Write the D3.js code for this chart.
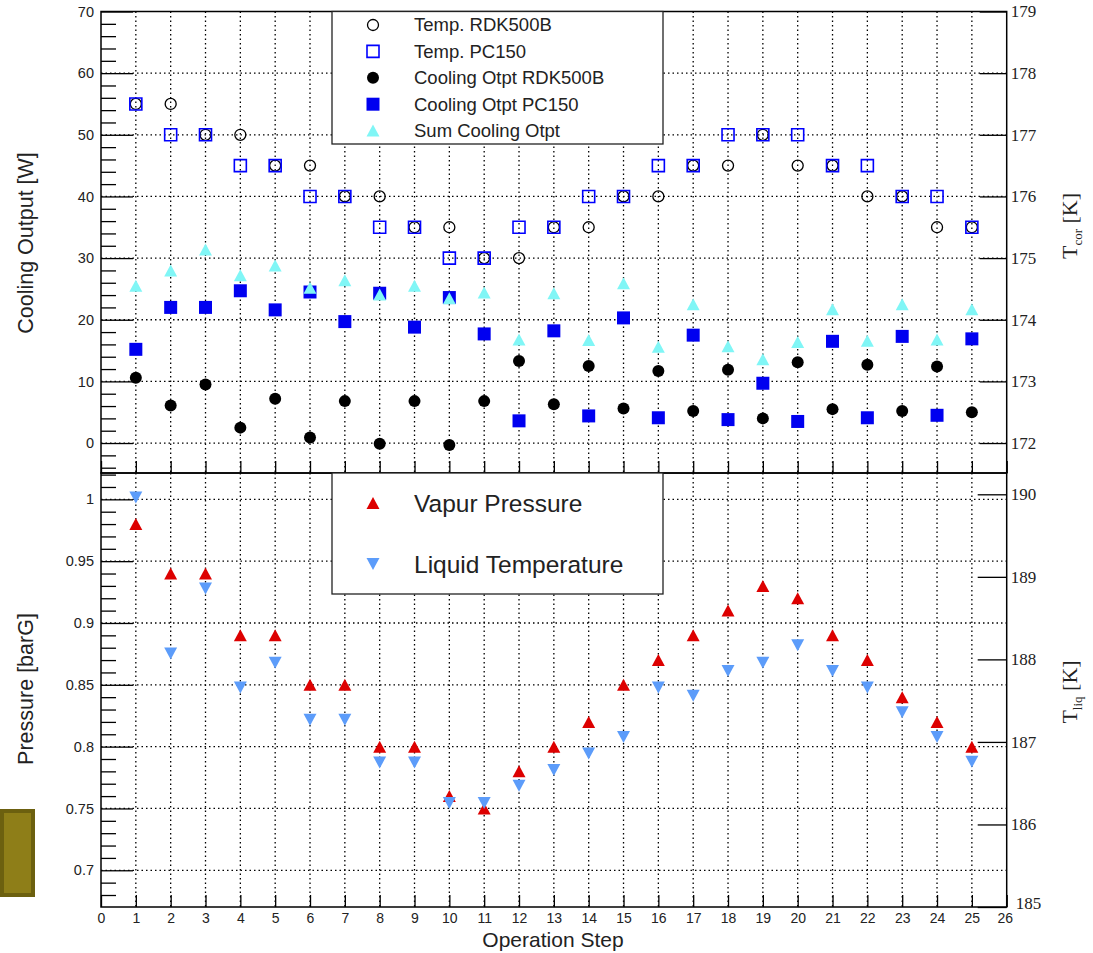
<!DOCTYPE html>
<html>
<head>
<meta charset="utf-8">
<script src="https://cdn.jsdelivr.net/npm/d3@7"></script>
<style>
  html, body { margin: 0; padding: 0; background: #fff; }
  svg { display: block; font-family: "Liberation Sans", Arial, sans-serif; }
  .grid line { stroke: #000; stroke-width: 1.3; stroke-dasharray: 1.5,3; }
  .tick line { stroke: #000; stroke-width: 1.3; }
</style>
</head>
<body>
<svg id="viz" width="1093" height="953"></svg>
<script>
// ---- data ----
const steps = d3.range(1, 26);

// corridor temperatures [K] (right axis, upper panel)
const tempRDK500B = [177.5,177.5,177,177,176.5,176.5,176,176,175.5,175.5,175,175,175.5,175.5,176,176,176.5,176.5,177,176.5,176.5,176,176,175.5,175.5];
const tempPC150   = [177.5,177,177,176.5,176.5,176,176,175.5,175.5,175,175,175.5,175.5,176,176,176.5,176.5,177,177,177,176.5,176.5,176,176,175.5];

// cooling output [W] (left axis, upper panel)
const coolRDK500B = [10.6,6.1,9.5,2.5,7.2,0.9,6.8,-0.1,6.8,-0.3,6.8,13.3,6.3,12.5,5.6,11.7,5.2,11.9,4.0,13.1,5.5,12.7,5.2,12.4,5.0];
const coolPC150   = [15.2,22.0,22.0,24.7,21.6,24.5,19.7,24.3,18.8,23.6,17.7,3.6,18.2,4.4,20.3,4.1,17.5,3.8,9.7,3.5,16.5,4.1,17.3,4.5,16.9];
const coolSum     = [25.5,28.0,31.4,27.2,28.8,25.2,26.4,24.1,25.5,23.5,24.4,16.8,24.3,16.7,25.9,15.6,22.5,15.7,13.6,16.4,21.7,16.6,22.5,16.8,21.7];

// lower panel
const vaporPressure = [0.98,0.94,0.94,0.89,0.89,0.85,0.85,0.80,0.80,0.76,0.75,0.78,0.80,0.82,0.85,0.87,0.89,0.91,0.93,0.92,0.89,0.87,0.84,0.82,0.80];
const liquidTemp    = [189.96,188.07,188.86,187.66,187.96,187.27,187.27,186.75,186.75,186.26,186.26,186.47,186.66,186.86,187.06,187.66,187.56,187.86,187.96,188.17,187.86,187.66,187.36,187.06,186.76];

// ticks
const stepTicks  = d3.range(0, 27);
const wTicks     = [0, 10, 20, 30, 40, 50, 60, 70];
const wMinor     = d3.range(-4, 70, 2).filter(d => d % 10 !== 0);
const tcorTicks  = [172, 173, 174, 175, 176, 177, 178, 179];
const pTicks     = [0.7, 0.75, 0.8, 0.85, 0.9, 0.95, 1];
const pMinor     = d3.range(68, 103).map(d => d / 100).filter(d => Math.round(d * 100) % 5 !== 0);
const tliqTicks  = [185, 186, 187, 188, 189, 190];

const topLegend = ["Temp. RDK500B", "Temp. PC150", "Cooling Otpt RDK500B", "Cooling Otpt PC150", "Sum Cooling Otpt"];
const botLegend = ["Vapur Pressure", "Liquid Temperature"];

// ---- layout ----
const svg = d3.select("#viz");
const X0 = 101, X1 = 1006.7;
const TOP = 11.5, MID = 473, BOT = 907;

const x     = d3.scaleLinear().domain([0, 26]).range([X0, X1]);
const yW    = d3.scaleLinear().domain([-4.86, 70]).range([MID, TOP]);
const yTcor = d3.scaleLinear().domain([172 - 0.486, 179]).range([MID, TOP]);
const yP    = d3.scaleLinear().domain([0.6703, 1.0213]).range([BOT, MID]);
const yTliq = d3.scaleLinear().domain([185, 190]).range([BOT, 494.3]);

// olive box on the left edge
svg.append("rect").attr("x", 2).attr("y", 811).attr("width", 31).attr("height", 84)
  .attr("fill", "#8e7e18").attr("stroke", "#6c600f").attr("stroke-width", 4);

// --- grid ---
const grid = svg.append("g").attr("class", "grid");
[[TOP, MID], [MID, BOT]].forEach(([a, b]) => {
  grid.selectAll(null).data(d3.range(1, 26)).join("line")
    .attr("x1", d => x(d)).attr("x2", d => x(d)).attr("y1", a).attr("y2", b);
});
grid.selectAll(null).data(wTicks.filter(d => d < 70)).join("line")
  .attr("x1", X0).attr("x2", X1).attr("y1", d => yW(d)).attr("y2", d => yW(d));
grid.selectAll(null).data(pTicks).join("line")
  .attr("x1", X0).attr("x2", X1).attr("y1", d => yP(d)).attr("y2", d => yP(d));

// --- axes ---
function styleAxis(g, size, family) {
  g.select(".domain").remove();
  g.selectAll("text").attr("fill", "#222").style("font-size", size + "px")
    .style("font-family", family || null);
}

const fmtP = d => (d === 1 ? "1" : d3.format("~g")(d));
const serif = "'Liberation Serif', 'Times New Roman', serif";

svg.append("g").attr("transform", `translate(${X0},0)`)
  .call(d3.axisLeft(yW).tickValues(wMinor).tickSize(-15).tickFormat(""))
  .call(g => g.select(".domain").remove());
svg.append("g").attr("transform", `translate(${X0},0)`)
  .call(d3.axisLeft(yW).tickValues(wTicks).tickSize(-32).tickPadding(7).tickFormat(d3.format("d")))
  .call(g => styleAxis(g, 14.5));

svg.append("g").attr("transform", `translate(${X0},0)`)
  .call(d3.axisLeft(yP).tickValues(pMinor).tickSize(-15).tickFormat(""))
  .call(g => g.select(".domain").remove());
svg.append("g").attr("transform", `translate(${X0},0)`)
  .call(d3.axisLeft(yP).tickValues(pTicks).tickSize(-32).tickPadding(7).tickFormat(fmtP))
  .call(g => styleAxis(g, 14.5));

svg.append("g").attr("transform", `translate(${X1},0)`)
  .call(d3.axisRight(yTcor).tickValues(tcorTicks).tickSize(-27).tickPadding(4).tickFormat(d3.format("d")))
  .call(g => styleAxis(g, 17, serif));
svg.append("g").attr("transform", `translate(${X1},0)`)
  .call(d3.axisRight(yTliq).tickValues(tliqTicks).tickSize(-29).tickPadding(4).tickFormat(d3.format("d")))
  .call(g => styleAxis(g, 17, serif))
  .call(g => g.selectAll(".tick text").filter(d => d === 185).attr("x", 9).attr("dy", "0.1em"));

svg.append("g").attr("transform", `translate(0,${MID})`)
  .call(d3.axisBottom(x).tickValues(stepTicks).tickSize(-12).tickFormat(""))
  .call(g => g.select(".domain").remove());
svg.append("g").attr("transform", `translate(0,${BOT})`)
  .call(d3.axisBottom(x).tickValues(stepTicks).tickSize(-12).tickPadding(6).tickFormat(d3.format("d")))
  .call(g => styleAxis(g, 14))
  .call(g => g.selectAll(".tick text").filter(d => d === 26).attr("x", -2));

// frames
[[TOP, MID], [MID, BOT]].forEach(([a, b]) => {
  svg.append("rect").attr("x", X0).attr("y", a).attr("width", X1 - X0).attr("height", b - a)
    .attr("fill", "none").attr("stroke", "#000").attr("stroke-width", 1.5);
});

// axis titles
svg.append("text").attr("transform", "translate(33,243) rotate(-90)")
  .attr("text-anchor", "middle").attr("fill", "#222").style("font-size", "21.5px")
  .text("Cooling Output [W]");
svg.append("text").attr("transform", "translate(33,689) rotate(-90)")
  .attr("text-anchor", "middle").attr("fill", "#222").style("font-size", "21.5px")
  .text("Pressure [barG]");
svg.append("text").attr("x", 553).attr("y", 947)
  .attr("text-anchor", "middle").attr("fill", "#222").style("font-size", "21px")
  .text("Operation Step");

function subTitle(cx, cy, sub) {
  const t = svg.append("text").attr("transform", `translate(${cx},${cy}) rotate(-90)`)
    .attr("text-anchor", "middle").attr("fill", "#222")
    .style("font-family", serif).style("font-size", "22px");
  t.append("tspan").text("T");
  t.append("tspan").attr("dy", 5).style("font-size", "13px").text(sub);
  t.append("tspan").attr("dy", -5).text(" [K]");
}
subTitle(1077, 226, "cor");
subTitle(1077, 692, "liq");

// --- markers ---
function shape(kind, s) {
  const h = s / 2;
  if (kind === "square") return `M${-h},${-h}H${h}V${h}H${-h}Z`;
  if (kind === "up") return `M0,${-h}L${h * 1.08},${h}L${-h * 1.08},${h}Z`;
  if (kind === "down") return `M0,${h}L${h * 1.08},${-h}L${-h * 1.08},${-h}Z`;
}

const series = [
  { vals: tempRDK500B, y: yTcor, kind: "circle", r: 5.5, fill: "none", stroke: "#000", sw: 1.3 },
  { vals: tempPC150,   y: yTcor, kind: "square", s: 12, fill: "none", stroke: "#0000ff", sw: 1.6 },
  { vals: coolRDK500B, y: yW,    kind: "circle", r: 6, fill: "#000", stroke: "none" },
  { vals: coolPC150,   y: yW,    kind: "square", s: 13, fill: "#0000f0", stroke: "none" },
  { vals: coolSum,     y: yW,    kind: "up", s: 12, fill: "#80f6f6", stroke: "none" },
  { vals: vaporPressure, y: yP,  kind: "up", s: 12, fill: "#dd0000", stroke: "none" },
  { vals: liquidTemp,  y: yTliq, kind: "down", s: 12, fill: "#5c9cfa", stroke: "none" }
];

function drawMarker(g, sp, cx, cy) {
  if (sp.kind === "circle") {
    g.append("circle").attr("cx", cx).attr("cy", cy).attr("r", sp.r)
      .attr("fill", sp.fill).attr("stroke", sp.stroke).attr("stroke-width", sp.sw || 0);
  } else {
    g.append("path").attr("d", shape(sp.kind, sp.s)).attr("transform", `translate(${cx},${cy})`)
      .attr("fill", sp.fill).attr("stroke", sp.stroke).attr("stroke-width", sp.sw || 0);
  }
}

const marks = svg.append("g");
series.forEach(sp => {
  const g = marks.append("g");
  sp.vals.forEach((v, i) => drawMarker(g, sp, x(steps[i]), sp.y(v)));
});

// --- legends ---
const leg1 = svg.append("g");
leg1.append("rect").attr("x", 332).attr("y", TOP).attr("width", 331).attr("height", 132.5)
  .attr("fill", "#fff").attr("stroke", "#222").attr("stroke-width", 1.3);
topLegend.forEach((name, i) => {
  const yy = 25 + i * 26.4;
  drawMarker(leg1, series[i], 373, yy);
  leg1.append("text").attr("x", 414).attr("y", yy).attr("dy", "0.35em")
    .attr("fill", "#222").style("font-size", "18.5px").text(name);
});

const leg2 = svg.append("g");
leg2.append("rect").attr("x", 332).attr("y", MID).attr("width", 331).attr("height", 121)
  .attr("fill", "#fff").attr("stroke", "#222").attr("stroke-width", 1.3);
botLegend.forEach((name, i) => {
  const yy = 503 + i * 61;
  drawMarker(leg2, series[5 + i], 373, yy);
  leg2.append("text").attr("x", 414).attr("y", yy).attr("dy", "0.35em")
    .attr("fill", "#222").style("font-size", "24.5px").text(name);
});
</script>
</body>
</html>
